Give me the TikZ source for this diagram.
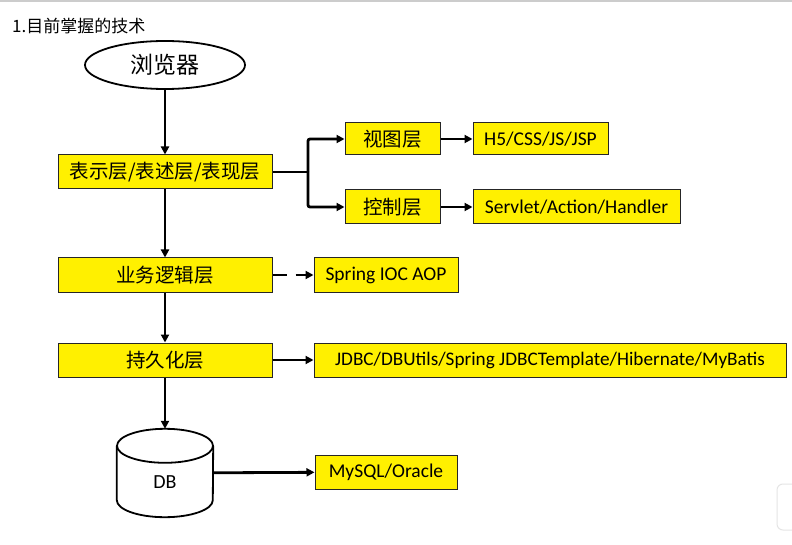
\documentclass[tikz,border=0pt]{standalone}
\usepackage{fontspec}
\setmainfont{Carlito}
\newfontfamily\cjk{Noto Sans CJK SC}
\usetikzlibrary{arrows.meta,shapes.geometric}

\definecolor{amarillo}{RGB}{255,240,0}

\tikzset{
    capa/.style={draw=black!85, line width=1pt, fill=amarillo, minimum height=34pt, inner sep=0pt},
    flecha/.style={line width=2.8pt, -{Triangle[length=8pt,width=8pt]}},
}

\begin{document}
\begin{tikzpicture}[x=1pt, y=-1pt]

    \useasboundingbox[fill=white] (0,0) rectangle (792,545);
    \draw[black!20, line width=2pt] (0,1) -- (792,1);
    \draw[black!10, line width=1pt, rounded corners=6pt] (792,484) -- (777,484) -- (777,530) -- (792,530);

    \node[anchor=base west, font=\cjk\fontsize{17}{17}\selectfont, inner sep=0pt] (titulo) at (12,33) {1.目前掌握的技术};

    \node[draw, ellipse, line width=1.8pt, minimum width=160pt, minimum height=48pt,
        font=\cjk\fontsize{23}{23}\selectfont] (navegador) at (165,65) {浏览器};

    %capas de la izquierda
    \node[capa, minimum width=214pt, font=\cjk\fontsize{19.5}{19.5}\selectfont] (presentacion) at (165,172) {表示层/表述层/表现层};
    \node[capa, minimum width=214pt, font=\cjk\fontsize{19.5}{19.5}\selectfont] (negocio) at (165,275) {业务逻辑层};
    \node[capa, minimum width=214pt, font=\cjk\fontsize{19.5}{19.5}\selectfont] (persistencia) at (165,360) {持久化层};

    \node[capa, minimum width=95pt, minimum height=32pt, font=\cjk\fontsize{19.5}{19.5}\selectfont] (vista) at (392.5,139) {视图层};
    \node[capa, minimum width=95pt, font=\cjk\fontsize{19.5}{19.5}\selectfont] (control) at (392.5,207) {控制层};

    %tecnologias
    \node[capa, minimum width=135pt, minimum height=32pt, font=\fontsize{19.5}{19.5}\selectfont] (web) at (540.5,139) {H5/CSS/JS/JSP};
    \node[capa, minimum width=207pt, font=\fontsize{19.5}{19.5}\selectfont] (servlet) at (576.5,207) {Servlet/Action/Handler};
    \node[capa, minimum width=144pt, font=\fontsize{19.5}{19.5}\selectfont] (spring) at (386,275) {Spring IOC AOP};
    \node[capa, minimum width=472pt, font=\fontsize{19.2}{19.2}\selectfont] (jdbc) at (550,360) {JDBC/DBUtils/Spring JDBCTemplate/Hibernate/MyBatis};
    \node[capa, minimum width=142pt, font=\fontsize{19.5}{19.5}\selectfont] (mysql) at (386,472) {MySQL/Oracle};

    %cilindro de la base de datos
    \node[minimum width=96pt, minimum height=88pt, inner sep=0pt] (db) at (165,473) {};
    \draw[line width=1.8pt] ([yshift=-17pt]db.north) ellipse [x radius=48pt, y radius=17pt];
    \draw[line width=1.8pt] ([yshift=-17pt]db.north west) -- ([yshift=17pt]db.south west)
        arc[start angle=180, end angle=360, x radius=48pt, y radius=17pt] -- ([yshift=-17pt]db.north east);
    \node[font=\fontsize{20}{20}\selectfont] (dbnombre) at ([yshift=-9pt]db.center) {DB};

    %flechas verticales
    \draw[flecha] (navegador) -- (presentacion);
    \draw[flecha] (presentacion) -- (negocio);
    \draw[flecha] (negocio) -- (persistencia);
    \draw[flecha] (persistencia) -- (db);

    \coordinate (bifurca) at (308,172);
    \draw[line width=2.8pt] (presentacion) -- (bifurca);
    \draw[flecha, rounded corners=2pt] (bifurca) |- (vista);
    \draw[flecha, rounded corners=2pt] (bifurca) |- (control);

    \draw[flecha] (vista) -- (web);
    \draw[flecha] (control) -- (servlet);
    \draw[flecha, dash pattern=on 14pt off 9pt] (negocio) -- (spring);
    \draw[flecha] (persistencia) -- (jdbc);
    \draw[flecha] (db) -- (mysql);

\end{tikzpicture}
\end{document}
